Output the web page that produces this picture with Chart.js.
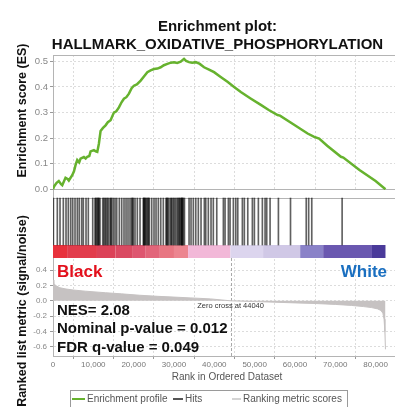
<!DOCTYPE html>
<html><head><meta charset="utf-8">
<script src="https://cdn.jsdelivr.net/npm/chart.js@4.4.1/dist/chart.umd.min.js"></script>
<style>
html,body{margin:0;padding:0;background:#fff;overflow:hidden;width:395px;height:407px}
#wrap{position:relative;width:395px;height:407px;overflow:hidden}
canvas{display:block}
</style></head>
<body><div id="wrap"><canvas id="c" width="401" height="407"></canvas></div>
<script>
// ---------------- data ----------------
const titleLines = ['Enrichment plot:', 'HALLMARK_OXIDATIVE_PHOSPHORYLATION'];
const esRanks  = [0,300,900,1440,2000,2300,3100,3600,3920,4770,5200,5600,6010,6500,6830,7650,8100,8500,9000,9320,10140,10600,10980,11380,11800,12400,13040,13600,14280,15100,15700,16350,17000,17590,18200,18830,19500,20070,20800,21740,22500,23400,24200,25040,25900,26700,27500,28370,29200,30000,30800,31670,32100,32490,33000,33730,34500,35400,36400,37460,38700,39940,41500,43270,44910,46575,49000,51540,53500,55690,56300,59500,63140,64780,66000,68000,71410,72000,76000,80000,82450];
const esScores = [0,0.012,0.025,0.032,0.02,0.016,0.045,0.04,0.034,0.055,0.07,0.095,0.114,0.105,0.12,0.126,0.12,0.127,0.13,0.148,0.153,0.148,0.146,0.178,0.228,0.24,0.25,0.262,0.27,0.3,0.305,0.32,0.34,0.354,0.36,0.374,0.395,0.405,0.41,0.425,0.44,0.458,0.465,0.47,0.472,0.477,0.485,0.49,0.495,0.497,0.494,0.499,0.505,0.51,0.502,0.497,0.495,0.497,0.49,0.477,0.468,0.458,0.44,0.42,0.4,0.38,0.355,0.33,0.31,0.29,0.288,0.255,0.218,0.205,0.198,0.17,0.127,0.124,0.075,0.032,0.0];
const hitRanks = [100,1070,1740,2560,3230,3800,4390,4890,5460,6030,6520,7120,7520,8190,8760,9850,10420,10600,10840,11090,11250,11410,11660,12330,12600,12900,13150,13470,13720,14140,14350,14560,14960,15380,15800,16450,17040,17610,18110,18600,19100,19520,19700,19920,20340,20910,21580,22400,22500,22650,22800,23000,23240,23500,23700,23890,24480,25050,25550,26120,26720,27360,28030,28200,28400,28600,29020,29300,29500,29840,30100,30440,30800,31080,31300,31500,31750,31900,32000,32100,32320,32600,33740,34230,34800,35400,36040,36710,37530,37880,38520,39190,39760,40610,42250,42670,43490,43910,44730,45320,45820,46960,47450,48300,49440,49940,50930,51920,52590,53000,53830,55900,58900,62800,63400,64170,71700];
const metricRanks  = [0,200,600,1700,3000,5000,8000,13000,17000,21500,26000,30000,34000,39000,44040,50000,55000,60000,65000,70000,74000,77000,79000,80500,81300,81800,82100,82300,82450];
const metricValues = [0.27,0.23,0.2,0.17,0.155,0.14,0.125,0.105,0.09,0.072,0.058,0.048,0.038,0.025,0,-0.01,-0.018,-0.027,-0.035,-0.047,-0.06,-0.075,-0.088,-0.105,-0.125,-0.16,-0.24,-0.4,-0.63];
const barStarts = [0,3500,10900,15500,19800,23000,26500,30000,33500,44000,52100,61300,67000,79100];
const barEnds   = [3500,10900,15500,19800,23000,26500,30000,33500,44000,52100,61300,67000,79100,82450];
const barColors = ['#e8313c','#e23c4c','#dc4258','#da4a62','#de5670','#e2657a','#e87682','#ec8590','#f2b8d8','#dcd5ee','#d0c8e6','#8a82c8','#6a58b0','#4a3a9a'];
const xTickValues = [0,10000,20000,30000,40000,50000,60000,70000,80000];
const esTickValues = [0,0.1,0.2,0.3,0.4,0.5];
const metricTickValues = [-0.6,-0.4,-0.2,0,0.2,0.4];
const statLines = ['NES= 2.08','Nominal p-value = 0.012','FDR q-value = 0.049'];
const zeroCross = 44040;
const phenoLeft = 'Black', phenoRight = 'White';
const esAxisTitle = 'Enrichment score (ES)';
const metricAxisTitle = 'Ranked list metric (signal/noise)';
const xAxisTitle = 'Rank in Ordered Dataset';
const legendLabels = ['Enrichment profile','Hits','Ranking metric scores'];

// ---------------- styling ----------------
const FONT = '"Liberation Sans", Arial, Helvetica, sans-serif';
Chart.defaults.font.family = FONT;
const GREEN = '#66b22e', GRID = '#dcdcdc', FRAME = '#b4b4b4';
const hitLow = 0.191, hitHigh = 0.882, colorBarTop = 0.191;

function hline(ctx, x0, x1, y){ctx.beginPath();ctx.moveTo(x0,y);ctx.lineTo(x1,y);ctx.stroke();}
function vline(ctx, x, y0, y1){ctx.beginPath();ctx.moveTo(x,y0);ctx.lineTo(x,y1);ctx.stroke();}
const setTicks = vals => s => { s.ticks = vals.map(v => ({ value: v })); };

const extras = {
  id: 'gseaExtras',
  beforeDraw(chart){const c=chart.ctx;c.save();c.fillStyle='#fff';c.fillRect(0,0,chart.width,chart.height);c.restore();},
  beforeDatasetsDraw(chart){
    const {ctx, chartArea:a, scales:s} = chart;
    const x=s.x, yE=s.yES, yH=s.yHits, yM=s.yM;
    ctx.save();
    ctx.fillStyle='#fff';
    ctx.fillRect(a.left+1, yE.bottom, a.right-a.left, yH.bottom-yE.bottom);
    const cbTop=yH.getPixelForValue(colorBarTop), cbBot=yH.getPixelForValue(0);
    barStarts.forEach((st,i)=>{
      const x0=x.getPixelForValue(st), x1=x.getPixelForValue(barEnds[i]);
      ctx.fillStyle=barColors[i]; ctx.fillRect(x0,cbTop,x1-x0,cbBot-cbTop);
    });
    ctx.strokeStyle=FRAME; ctx.lineWidth=1;
    hline(ctx,a.left,a.right,Math.round(yE.top)+0.5);
    hline(ctx,a.left,a.right,Math.round(yE.bottom)-0.5);
    hline(ctx,a.left,a.right,Math.round(yH.getPixelForValue(hitHigh))+0.5);
    ctx.strokeStyle='#a8a8a8'; ctx.setLineDash([3,2]);
    const zx=Math.round(x.getPixelForValue(zeroCross))+0.5;
    vline(ctx,zx,yM.top,yM.bottom);
    ctx.restore();
  },
  afterDraw(chart){
    const {ctx, scales:s} = chart;
    const x=s.x, yE=s.yES;
    ctx.save();
    ctx.fillStyle='#111'; ctx.textAlign='center'; ctx.textBaseline='middle';
    ctx.font='bold 15px '+FONT;
    ctx.fillText(titleLines[0],217.5,27);
    ctx.fillText(titleLines[1],217.5,45);
    ctx.font='bold 12.5px '+FONT;
    ctx.save(); ctx.translate(23,(yE.top+yE.bottom)/2-12); ctx.rotate(-Math.PI/2); ctx.fillText(esAxisTitle,0,0); ctx.restore();
    ctx.save(); ctx.translate(23,311); ctx.rotate(-Math.PI/2); ctx.fillText(metricAxisTitle,0,0); ctx.restore();
    ctx.font='bold 17px '+FONT; ctx.textAlign='left';
    ctx.fillStyle='#e3101c'; ctx.fillText(phenoLeft,57,272);
    ctx.textAlign='right'; ctx.fillStyle='#1a6fc0'; ctx.fillText(phenoRight,387,272);
    ctx.font='7.5px '+FONT; ctx.textAlign='center'; ctx.fillStyle='#333';
    ctx.fillText('Zero cross at '+zeroCross, x.getPixelForValue(zeroCross), 306);
    ctx.font='bold 15px '+FONT; ctx.textAlign='left'; ctx.fillStyle='#111';
    statLines.forEach((t,i)=>ctx.fillText(t,57,311+i*18.3));
    ctx.strokeStyle='#9a9a9a'; ctx.lineWidth=1; ctx.strokeRect(70.5,390.5,277,30);
    ctx.font='10px '+FONT; ctx.textAlign='left'; ctx.fillStyle='#555';
    const ly=399;
    ctx.lineWidth=2;
    ctx.strokeStyle=GREEN; hline(ctx,72,85,ly);
    ctx.fillText(legendLabels[0],87,ly);
    ctx.strokeStyle='#555'; hline(ctx,173,183,ly);
    ctx.fillText(legendLabels[1],185,ly);
    ctx.strokeStyle='#d4d4d4'; hline(ctx,232,241,ly);
    ctx.fillText(legendLabels[2],243,ly);
    ctx.restore();
  }
};

const yWidth = s => { s.width = 53; };

new Chart(document.getElementById('c'), {
  type: 'line',
  data: {
    datasets: [
      { label: legendLabels[0], type:'line', yAxisID:'yES',
        data: esRanks.map((r,i)=>({x:r,y:esScores[i]})),
        borderColor: GREEN, borderWidth: 2.5, pointRadius: 0, tension: 0, fill:false },
      { label: legendLabels[1], type:'bar', yAxisID:'yHits', grouped:false,
        data: hitRanks.map(r=>({x:r,y:[hitLow,hitHigh]})),
        backgroundColor: 'rgba(0,0,0,0.62)', barThickness: 1, borderWidth: 0 },
      { label: legendLabels[2], type:'line', yAxisID:'yM',
        data: metricRanks.map((r,i)=>({x:r,y:metricValues[i]})),
        borderColor: '#c6c2c2', backgroundColor: '#c6c2c2', borderWidth: 1, pointRadius: 0, fill: 'origin', tension: 0 }
    ]
  },
  options: {
    responsive: false, animation: false, events: [],
    layout: { padding: { top: 55, left: 0, right: 0, bottom: 24 }, autoPadding: false },
    plugins: { legend: { display: false }, tooltip: { enabled: false }, title: { display: false } },
    scales: {
      x: { type:'linear', position:'bottom', min:0, max:86300, offset:false,
        afterBuildTicks: setTicks(xTickValues),
        ticks: { autoSkip:false, maxRotation:0, minRotation:0, padding:1,
          font:{size:8}, color:'#777', callback: v => v.toLocaleString('en-US') },
        grid: { color: GRID, tickLength: 3, tickColor: '#999', tickBorderDash: [] },
        border: { display:true, color: FRAME, dash:[2,2] },
        title: { display:true, text: xAxisTitle, font:{size:10}, color:'#555', padding:{top:0,bottom:0} },
        afterFit: s => { s.height = 27; } },
      yES: { type:'linear', position:'left', stack:'panels', stackWeight:135, weight:3,
        min:-0.003, max:0.525,
        afterBuildTicks: setTicks(esTickValues),
        ticks: { autoSkip:false, padding:2, font:{size:9.5}, color:'#888', callback: v => v.toFixed(1) },
        grid: { color: GRID, tickLength: 3, tickColor:'#999', tickBorderDash: [] },
        border: { display:true, color: FRAME, dash:[2,2] },
        afterFit: yWidth },
      yHits: { type:'linear', position:'left', stack:'panels', stackWeight:68, weight:2,
        min:0, max:1,
        ticks: { display:false },
        grid: { display:false, drawTicks:false },
        border: { display:true, color: FRAME },
        afterFit: yWidth },
      yM: { type:'linear', position:'left', stack:'panels', stackWeight:98, weight:1,
        min:-0.717, max:0.556,
        afterBuildTicks: setTicks(metricTickValues),
        ticks: { autoSkip:false, padding:3, font:{size:8}, color:'#888', callback: v => v.toFixed(1) },
        grid: { color: GRID, tickLength: 3, tickColor:'#999', tickBorderDash: [] },
        border: { display:true, color: FRAME, dash:[2,2] },
        afterFit: yWidth }
    }
  },
  plugins: [extras]
});
</script>
</body></html>
